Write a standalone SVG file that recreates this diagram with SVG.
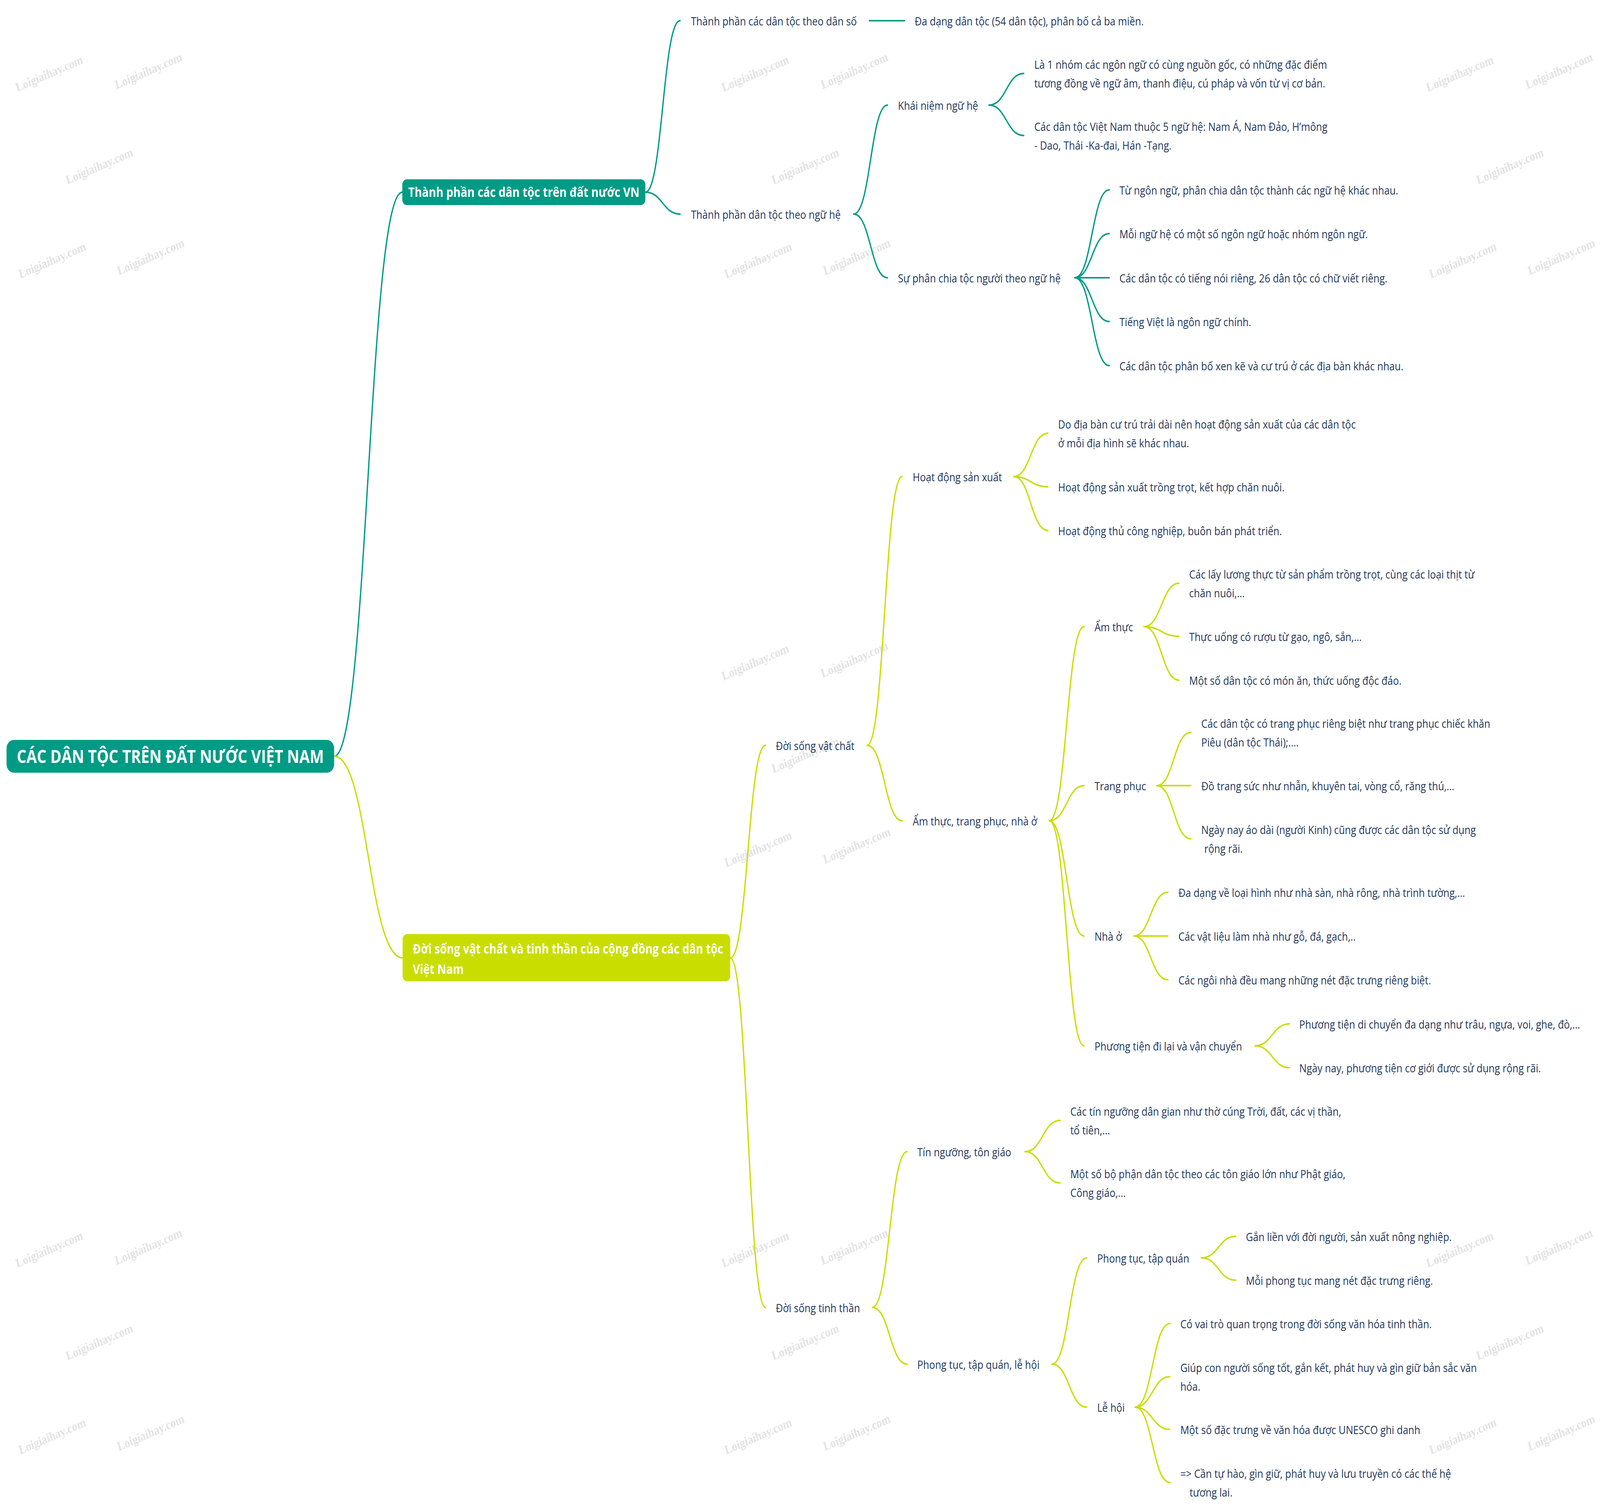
<svg xmlns="http://www.w3.org/2000/svg" width="4884" height="3850" viewBox="0 0 4884 3850" preserveAspectRatio="none" style="width:100vw;height:100vh">
<style>
.t{font-family:"Open Sans","Noto Sans","Liberation Sans",sans-serif;font-size:30px;fill:#23375a}
.h{font-family:"Open Sans","Noto Sans","Liberation Sans",sans-serif;font-weight:700;fill:#ffffff}
.ct{stroke:#009B85;stroke-width:4;fill:none;stroke-linecap:round}
.cy{stroke:#C9DE00;stroke-width:4;fill:none;stroke-linecap:round}
.wm{font-family:"Liberation Serif","DejaVu Serif",serif;font-weight:700;font-size:33px;fill:#e3e3e3}
</style>
<rect x="0" y="0" width="4884" height="3850" fill="#ffffff"/>
<g id="watermarks">
<text class="wm" x="150" y="199" text-anchor="middle" transform="rotate(-20 150 188)">Loigiaihay.com</text>
<text class="wm" x="453" y="192" text-anchor="middle" transform="rotate(-20 453 181)">Loigiaihay.com</text>
<text class="wm" x="303" y="436" text-anchor="middle" transform="rotate(-20 303 425)">Loigiaihay.com</text>
<text class="wm" x="159" y="677" text-anchor="middle" transform="rotate(-20 159 666)">Loigiaihay.com</text>
<text class="wm" x="460" y="668" text-anchor="middle" transform="rotate(-20 460 657)">Loigiaihay.com</text>
<text class="wm" x="2305" y="199" text-anchor="middle" transform="rotate(-20 2305 188)">Loigiaihay.com</text>
<text class="wm" x="2608" y="192" text-anchor="middle" transform="rotate(-20 2608 181)">Loigiaihay.com</text>
<text class="wm" x="2458" y="436" text-anchor="middle" transform="rotate(-20 2458 425)">Loigiaihay.com</text>
<text class="wm" x="2314" y="677" text-anchor="middle" transform="rotate(-20 2314 666)">Loigiaihay.com</text>
<text class="wm" x="2615" y="668" text-anchor="middle" transform="rotate(-20 2615 657)">Loigiaihay.com</text>
<text class="wm" x="4456" y="199" text-anchor="middle" transform="rotate(-20 4456 188)">Loigiaihay.com</text>
<text class="wm" x="4759" y="192" text-anchor="middle" transform="rotate(-20 4759 181)">Loigiaihay.com</text>
<text class="wm" x="4609" y="436" text-anchor="middle" transform="rotate(-20 4609 425)">Loigiaihay.com</text>
<text class="wm" x="4465" y="677" text-anchor="middle" transform="rotate(-20 4465 666)">Loigiaihay.com</text>
<text class="wm" x="4766" y="668" text-anchor="middle" transform="rotate(-20 4766 657)">Loigiaihay.com</text>
<text class="wm" x="2305" y="1706" text-anchor="middle" transform="rotate(-20 2305 1695)">Loigiaihay.com</text>
<text class="wm" x="2608" y="1699" text-anchor="middle" transform="rotate(-20 2608 1688)">Loigiaihay.com</text>
<text class="wm" x="2458" y="1943" text-anchor="middle" transform="rotate(-20 2458 1932)">Loigiaihay.com</text>
<text class="wm" x="2314" y="2184" text-anchor="middle" transform="rotate(-20 2314 2173)">Loigiaihay.com</text>
<text class="wm" x="2615" y="2175" text-anchor="middle" transform="rotate(-20 2615 2164)">Loigiaihay.com</text>
<text class="wm" x="150" y="3209" text-anchor="middle" transform="rotate(-20 150 3198)">Loigiaihay.com</text>
<text class="wm" x="453" y="3202" text-anchor="middle" transform="rotate(-20 453 3191)">Loigiaihay.com</text>
<text class="wm" x="303" y="3446" text-anchor="middle" transform="rotate(-20 303 3435)">Loigiaihay.com</text>
<text class="wm" x="159" y="3687" text-anchor="middle" transform="rotate(-20 159 3676)">Loigiaihay.com</text>
<text class="wm" x="460" y="3678" text-anchor="middle" transform="rotate(-20 460 3667)">Loigiaihay.com</text>
<text class="wm" x="2305" y="3209" text-anchor="middle" transform="rotate(-20 2305 3198)">Loigiaihay.com</text>
<text class="wm" x="2608" y="3202" text-anchor="middle" transform="rotate(-20 2608 3191)">Loigiaihay.com</text>
<text class="wm" x="2458" y="3446" text-anchor="middle" transform="rotate(-20 2458 3435)">Loigiaihay.com</text>
<text class="wm" x="2314" y="3687" text-anchor="middle" transform="rotate(-20 2314 3676)">Loigiaihay.com</text>
<text class="wm" x="2615" y="3678" text-anchor="middle" transform="rotate(-20 2615 3667)">Loigiaihay.com</text>
<text class="wm" x="4456" y="3209" text-anchor="middle" transform="rotate(-20 4456 3198)">Loigiaihay.com</text>
<text class="wm" x="4759" y="3202" text-anchor="middle" transform="rotate(-20 4759 3191)">Loigiaihay.com</text>
<text class="wm" x="4609" y="3446" text-anchor="middle" transform="rotate(-20 4609 3435)">Loigiaihay.com</text>
<text class="wm" x="4465" y="3687" text-anchor="middle" transform="rotate(-20 4465 3676)">Loigiaihay.com</text>
<text class="wm" x="4766" y="3678" text-anchor="middle" transform="rotate(-20 4766 3667)">Loigiaihay.com</text>
</g>
<g id="connectors">
<path class="ct" d="M1020 1936 C1124 1936 1124 492 1228 492"/>
<path class="ct" d="M1970 492 C2023 492 2023 53 2076 53"/>
<path class="ct" d="M1970 492 C2023 492 2023 548 2076 548"/>
<path class="ct" d="M2654 53 L2761 53"/>
<path class="ct" d="M2606 548 C2657.5 548 2657.5 269 2709 269"/>
<path class="ct" d="M2606 548 C2657.5 548 2657.5 711 2709 711"/>
<path class="ct" d="M3019 269 C3072 269 3072 188 3125 188"/>
<path class="ct" d="M3019 269 C3072 269 3072 347 3125 347"/>
<path class="ct" d="M3281 711 C3333.5 711 3333.5 486 3386 486"/>
<path class="ct" d="M3281 711 C3333.5 711 3333.5 598 3386 598"/>
<path class="ct" d="M3281 711 L3386 711"/>
<path class="ct" d="M3281 711 C3333.5 711 3333.5 823 3386 823"/>
<path class="ct" d="M3281 711 C3333.5 711 3333.5 936 3386 936"/>
<path class="cy" d="M1020 1936 C1124.5 1936 1124.5 2452 1229 2452"/>
<path class="cy" d="M2229 2452 C2283 2452 2283 1908 2337 1908"/>
<path class="cy" d="M2229 2452 C2283 2452 2283 3347 2337 3347"/>
<path class="cy" d="M2647 1908 C2700.5 1908 2700.5 1220 2754 1220"/>
<path class="cy" d="M2647 1908 C2700.5 1908 2700.5 2101 2754 2101"/>
<path class="cy" d="M3094 1220 C3146.5 1220 3146.5 1109 3199 1109"/>
<path class="cy" d="M3094 1220 C3146.5 1220 3146.5 1246 3199 1246"/>
<path class="cy" d="M3094 1220 C3146.5 1220 3146.5 1358 3199 1358"/>
<path class="cy" d="M3203 2101 C3256 2101 3256 1604 3309 1604"/>
<path class="cy" d="M3203 2101 C3256 2101 3256 2011 3309 2011"/>
<path class="cy" d="M3203 2101 C3256 2101 3256 2396 3309 2396"/>
<path class="cy" d="M3203 2101 C3256 2101 3256 2677 3309 2677"/>
<path class="cy" d="M3492 1604 C3545.5 1604 3545.5 1493 3599 1493"/>
<path class="cy" d="M3492 1604 C3545.5 1604 3545.5 1629 3599 1629"/>
<path class="cy" d="M3492 1604 C3545.5 1604 3545.5 1741 3599 1741"/>
<path class="cy" d="M3531 2011 C3583 2011 3583 1875 3635 1875"/>
<path class="cy" d="M3531 2011 L3635 2011"/>
<path class="cy" d="M3531 2011 C3583 2011 3583 2147 3635 2147"/>
<path class="cy" d="M3461 2396 C3513 2396 3513 2284 3565 2284"/>
<path class="cy" d="M3461 2396 L3565 2396"/>
<path class="cy" d="M3461 2396 C3513 2396 3513 2508 3565 2508"/>
<path class="cy" d="M3831 2677 C3883.5 2677 3883.5 2621 3936 2621"/>
<path class="cy" d="M3831 2677 C3883.5 2677 3883.5 2733 3936 2733"/>
<path class="cy" d="M2663 3347 C2716 3347 2716 2948 2769 2948"/>
<path class="cy" d="M2663 3347 C2716 3347 2716 3492 2769 3492"/>
<path class="cy" d="M3129 2948 C3182.5 2948 3182.5 2868 3236 2868"/>
<path class="cy" d="M3129 2948 C3182.5 2948 3182.5 3028 3236 3028"/>
<path class="cy" d="M3211 3492 C3264 3492 3264 3220 3317 3220"/>
<path class="cy" d="M3211 3492 C3264 3492 3264 3602 3317 3602"/>
<path class="cy" d="M3667 3220 C3719.5 3220 3719.5 3165 3772 3165"/>
<path class="cy" d="M3667 3220 C3719.5 3220 3719.5 3277 3772 3277"/>
<path class="cy" d="M3465 3602 C3518 3602 3518 3388 3571 3388"/>
<path class="cy" d="M3465 3602 C3518 3602 3518 3524 3571 3524"/>
<path class="cy" d="M3465 3602 C3518 3602 3518 3659 3571 3659"/>
<path class="cy" d="M3465 3602 C3518 3602 3518 3795 3571 3795"/>
</g>
<g id="root">
<rect x="20" y="1894" width="1000" height="84" rx="22" fill="#009B85"/>
<text class="h" x="520" y="1953" font-size="46" text-anchor="middle">CÁC DÂN TỘC TRÊN ĐẤT NƯỚC VIỆT NAM</text>
</g>
<g id="n-thanh-phan">
<rect x="1228" y="459" width="742" height="66" rx="14" fill="#009B85"/>
<text class="h" x="1599" y="504" font-size="34" text-anchor="middle">Thành phần các dân tộc trên đất nước VN</text>
</g>
<g id="n-dan-so"><text class="t" x="2109" y="65">Thành phần các dân tộc theo dân số</text></g>
<g id="n-dan-so-1"><text class="t" x="2792" y="65">Đa dạng dân tộc (54 dân tộc), phân bố cả ba miền.</text></g>
<g id="n-ngu-he"><text class="t" x="2109" y="560">Thành phần dân tộc theo ngữ hệ</text></g>
<g id="n-khai-niem"><text class="t" x="2741" y="281">Khái niệm ngữ hệ</text></g>
<g id="n-khai-niem-1"><text class="t" x="3157" y="176">Là 1 nhóm các ngôn ngữ có cùng nguồn gốc, có những đặc điểm</text><text class="t" x="3157" y="224">tương đồng về ngữ âm, thanh điệu, cú pháp và vốn từ vị cơ bản.</text></g>
<g id="n-khai-niem-2"><text class="t" x="3157" y="335">Các dân tộc Việt Nam thuộc 5 ngữ hệ: Nam Á, Nam Đảo, H’mông</text><text class="t" x="3157" y="383">- Dao, Thái -Ka-đai, Hán -Tạng.</text></g>
<g id="n-phan-chia"><text class="t" x="2741" y="723">Sự phân chia tộc người theo ngữ hệ</text></g>
<g id="n-phan-chia-1"><text class="t" x="3417" y="498">Từ ngôn ngữ, phân chia dân tộc thành các ngữ hệ khác nhau.</text></g>
<g id="n-phan-chia-2"><text class="t" x="3417" y="610">Mỗi ngữ hệ có một số ngôn ngữ hoặc nhóm ngôn ngữ.</text></g>
<g id="n-phan-chia-3"><text class="t" x="3417" y="723">Các dân tộc có tiếng nói riêng, 26 dân tộc có chữ viết riêng.</text></g>
<g id="n-phan-chia-4"><text class="t" x="3417" y="835">Tiếng Việt là ngôn ngữ chính.</text></g>
<g id="n-phan-chia-5"><text class="t" x="3417" y="948">Các dân tộc phân bố xen kẽ và cư trú ở các địa bàn khác nhau.</text></g>
<g id="n-doi-song">
<rect x="1229" y="2391" width="1000" height="121" rx="14" fill="#C9DE00"/>
<text class="h" x="1260" y="2441" font-size="33.5">Đời sống vật chất và tinh thần của cộng đồng các dân tộc</text>
<text class="h" x="1260" y="2493" font-size="33.5">Việt Nam</text>
</g>
<g id="n-vat-chat"><text class="t" x="2368" y="1920">Đời sống vật chất</text></g>
<g id="n-hoat-dong"><text class="t" x="2786" y="1232">Hoạt động sản xuất</text></g>
<g id="n-hoat-dong-1"><text class="t" x="3230" y="1097">Do địa bàn cư trú trải dài nên hoạt động sản xuất của các dân tộc</text><text class="t" x="3230" y="1145">ở mỗi địa hình sẽ khác nhau.</text></g>
<g id="n-hoat-dong-2"><text class="t" x="3230" y="1258">Hoạt động sản xuất trồng trọt, kết hợp chăn nuôi.</text></g>
<g id="n-hoat-dong-3"><text class="t" x="3230" y="1370">Hoạt động thủ công nghiệp, buôn bán phát triển.</text></g>
<g id="n-am-thuc-tp"><text class="t" x="2786" y="2113">Ẩm thực, trang phục, nhà ở</text></g>
<g id="n-am-thuc"><text class="t" x="3341" y="1616">Ẩm thực</text></g>
<g id="n-am-thuc-1"><text class="t" x="3630" y="1481">Các lấy lương thực từ sản phẩm trồng trọt, cùng các loại thịt từ</text><text class="t" x="3630" y="1529">chăn nuôi,...</text></g>
<g id="n-am-thuc-2"><text class="t" x="3630" y="1641">Thực uống có rượu từ gạo, ngô, sắn,...</text></g>
<g id="n-am-thuc-3"><text class="t" x="3630" y="1753">Một số dân tộc có món ăn, thức uống độc đáo.</text></g>
<g id="n-trang-phuc"><text class="t" x="3341" y="2023">Trang phục</text></g>
<g id="n-trang-phuc-1"><text class="t" x="3667" y="1863">Các dân tộc có trang phục riêng biệt như trang phục chiếc khăn</text><text class="t" x="3667" y="1911">Piêu (dân tộc Thái);....</text></g>
<g id="n-trang-phuc-2"><text class="t" x="3667" y="2023">Đồ trang sức như nhẫn, khuyên tai, vòng cổ, răng thú,...</text></g>
<g id="n-trang-phuc-3"><text class="t" x="3667" y="2135">Ngày nay áo dài (người Kinh) cũng được các dân tộc sử dụng</text><text class="t" x="3676" y="2183">rộng rãi.</text></g>
<g id="n-nha-o"><text class="t" x="3341" y="2408">Nhà ở</text></g>
<g id="n-nha-o-1"><text class="t" x="3597" y="2296">Đa dạng về loại hình như nhà sàn, nhà rông, nhà trình tường,...</text></g>
<g id="n-nha-o-2"><text class="t" x="3597" y="2408">Các vật liệu làm nhà như gỗ, đá, gạch,..</text></g>
<g id="n-nha-o-3"><text class="t" x="3597" y="2520">Các ngôi nhà đều mang những nét đặc trưng riêng biệt.</text></g>
<g id="n-phuong-tien"><text class="t" x="3341" y="2689">Phương tiện đi lại và vận chuyển</text></g>
<g id="n-phuong-tien-1"><text class="t" x="3966" y="2633">Phương tiện di chuyển đa dạng như trâu, ngựa, voi, ghe, đò,...</text></g>
<g id="n-phuong-tien-2"><text class="t" x="3966" y="2745">Ngày nay, phương tiện cơ giới được sử dụng rộng rãi.</text></g>
<g id="n-tinh-than"><text class="t" x="2368" y="3359">Đời sống tinh thần</text></g>
<g id="n-tin-nguong"><text class="t" x="2800" y="2960">Tín ngưỡng, tôn giáo</text></g>
<g id="n-tin-nguong-1"><text class="t" x="3267" y="2856">Các tín ngưỡng dân gian như thờ cúng Trời, đất, các vị thần,</text><text class="t" x="3267" y="2904">tổ tiên,...</text></g>
<g id="n-tin-nguong-2"><text class="t" x="3267" y="3016">Một số bộ phận dân tộc theo các tôn giáo lớn như Phật giáo,</text><text class="t" x="3267" y="3064">Công giáo,...</text></g>
<g id="n-phong-tuc-le-hoi"><text class="t" x="2800" y="3504">Phong tục, tập quán, lễ hội</text></g>
<g id="n-phong-tuc"><text class="t" x="3349" y="3232">Phong tục, tập quán</text></g>
<g id="n-phong-tuc-1"><text class="t" x="3803" y="3177">Gắn liền với đời người, sản xuất nông nghiệp.</text></g>
<g id="n-phong-tuc-2"><text class="t" x="3803" y="3289">Mỗi phong tục mang nét đặc trưng riêng.</text></g>
<g id="n-le-hoi"><text class="t" x="3349" y="3614">Lễ hội</text></g>
<g id="n-le-hoi-1"><text class="t" x="3603" y="3400">Có vai trò quan trọng trong đời sống văn hóa tinh thần.</text></g>
<g id="n-le-hoi-2"><text class="t" x="3603" y="3512">Giúp con người sống tốt, gắn kết, phát huy và gìn giữ bản sắc văn</text><text class="t" x="3603" y="3560">hóa.</text></g>
<g id="n-le-hoi-3"><text class="t" x="3603" y="3671">Một số đặc trưng về văn hóa được UNESCO ghi danh</text></g>
<g id="n-le-hoi-4"><text class="t" x="3603" y="3783">=&gt; Cần tự hào, gìn giữ, phát huy và lưu truyền có các thế hệ</text><text class="t" x="3631" y="3831">tương lai.</text></g>
</svg>
